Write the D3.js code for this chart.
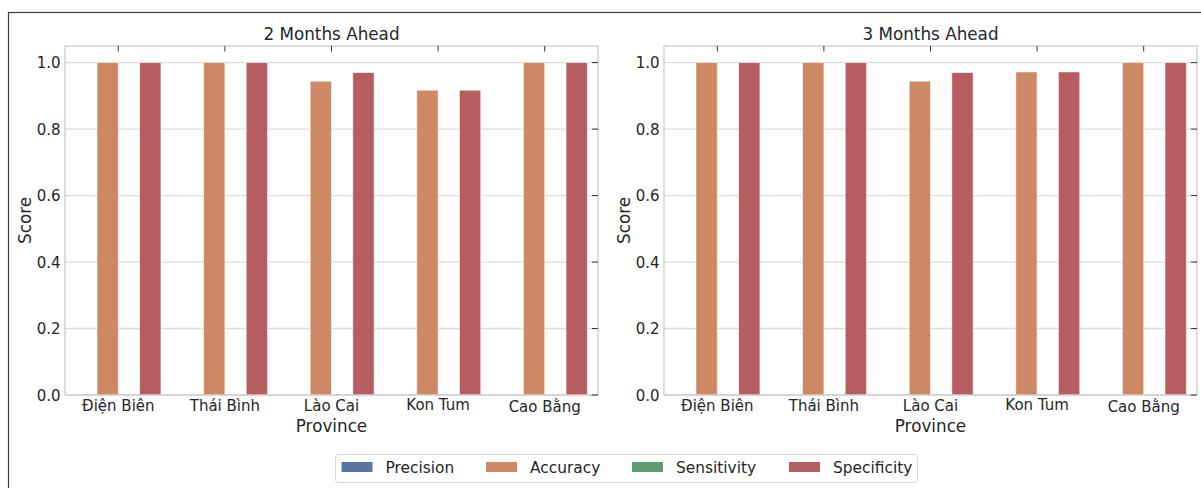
<!DOCTYPE html>
<html>
<head>
<meta charset="utf-8">
<script src="https://cdn.jsdelivr.net/npm/d3@7"></script>
<style>
  html, body { margin: 0; padding: 0; background: #ffffff; }
  svg { display: block; }
  text { font-family: "DejaVu Sans", sans-serif; fill: #262626; }
</style>
</head>
<body>
<svg id="chart" width="1201" height="488"></svg>
<script>
// Provinces and metric names
const provinces = ["Điện Biên", "Thái Bình", "Lào Cai", "Kon Tum", "Cao Bằng"];
const metrics = ["Precision", "Accuracy", "Sensitivity", "Specificity"];
const yTicks = [0.0, 0.2, 0.4, 0.6, 0.8, 1.0];

// 2 months ahead scores per province
const precision2 = [0, 0, 0, 0, 0];
const accuracy2 = [1.0, 1.0, 0.944, 0.917, 1.0];
const sensitivity2 = [0, 0, 0, 0, 0];
const specificity2 = [1.0, 1.0, 0.970, 0.917, 1.0];

// 3 months ahead scores per province
const precision3 = [0, 0, 0, 0, 0];
const accuracy3 = [1.0, 1.0, 0.944, 0.972, 1.0];
const sensitivity3 = [0, 0, 0, 0, 0];
const specificity3 = [1.0, 1.0, 0.970, 0.972, 1.0];

const panels = [
  { title: "2 Months Ahead", series: [precision2, accuracy2, sensitivity2, specificity2], x0: 65, x1: 598 },
  { title: "3 Months Ahead", series: [precision3, accuracy3, sensitivity3, specificity3], x0: 664, x1: 1197 }
];

// seaborn "deep" palette, desaturated as barplot does
const colors = d3.scaleOrdinal().domain(metrics)
  .range(["#5875a4", "#cc8963", "#5f9e6e", "#b55d60"]);

const svg = d3.select("#chart");
const plotTop = 46, plotBottom = 395;
const y = d3.scaleLinear().domain([0, 1.05]).range([plotBottom, plotTop]);

// glyph-accurate ascent, so tick labels hang from their tallest mark
const ctx = document.createElement("canvas").getContext("2d");
ctx.font = '15px "DejaVu Sans"';
const ascent = s => ctx.measureText(s).actualBoundingBoxAscent;

// outer figure frame
svg.append("rect")
  .attr("x", 8.5).attr("y", 12.5)
  .attr("width", 1230).attr("height", 500)
  .attr("fill", "none").attr("stroke", "#3c3c3c").attr("stroke-width", 1.2);

panels.forEach(p => {
  const g = svg.append("g");
  const x = d3.scaleBand().domain(provinces).range([p.x0, p.x1]).padding(0);
  const bw = x.bandwidth();
  const hue = d3.scaleBand().domain(metrics).range([-0.4 * bw, 0.4 * bw]).padding(0);

  // horizontal grid
  g.append("g").selectAll("line").data(yTicks).join("line")
    .attr("x1", p.x0).attr("x2", p.x1)
    .attr("y1", d => y(d)).attr("y2", d => y(d))
    .attr("stroke", "#dcdcdc").attr("stroke-width", 1.3);

  // bars
  const rows = [];
  p.series.forEach((vals, si) => vals.forEach((v, ci) => rows.push({ m: metrics[si], c: provinces[ci], v })));
  g.append("g").selectAll("rect").data(rows).join("rect")
    .attr("x", d => x(d.c) + bw / 2 + hue(d.m))
    .attr("width", hue.bandwidth())
    .attr("y", d => y(d.v))
    .attr("height", d => y(0) - y(d.v))
    .attr("fill", d => colors(d.m))
    .attr("stroke", "#ffffff").attr("stroke-opacity", 0.6).attr("stroke-width", 0.9);

  // spines
  g.append("rect")
    .attr("x", p.x0).attr("y", plotTop)
    .attr("width", p.x1 - p.x0).attr("height", plotBottom - plotTop)
    .attr("fill", "none").attr("stroke", "#cccccc").attr("stroke-width", 1.3);

  // inward ticks on the top and right edges
  g.append("g").selectAll("line").data(provinces).join("line")
    .attr("x1", d => x(d) + bw / 2).attr("x2", d => x(d) + bw / 2)
    .attr("y1", plotTop).attr("y2", plotTop + 5.5)
    .attr("stroke", "#333333").attr("stroke-width", 1);
  g.append("g").selectAll("line").data(yTicks).join("line")
    .attr("x1", p.x1 - 6).attr("x2", p.x1)
    .attr("y1", d => y(d)).attr("y2", d => y(d))
    .attr("stroke", "#333333").attr("stroke-width", 1);

  // y tick labels
  g.append("g").selectAll("text").data(yTicks).join("text")
    .attr("x", p.x0 - 4.5).attr("y", d => y(d) + 5.5)
    .attr("text-anchor", "end").attr("font-size", 15)
    .text(d => d3.format(".1f")(d));

  // x tick labels
  g.append("g").selectAll("text").data(provinces).join("text")
    .attr("x", d => x(d) + bw / 2)
    .attr("y", d => 398 + ascent(d))
    .attr("text-anchor", "middle").attr("font-size", 15)
    .text(d => d);

  // title and axis labels
  g.append("text")
    .attr("x", (p.x0 + p.x1) / 2).attr("y", 40)
    .attr("text-anchor", "middle").attr("font-size", 16.8)
    .text(p.title);
  g.append("text")
    .attr("x", (p.x0 + p.x1) / 2).attr("y", 432)
    .attr("text-anchor", "middle").attr("font-size", 16.8)
    .text("Province");
  g.append("text")
    .attr("transform", `translate(${p.x0 - 34},${(plotTop + plotBottom) / 2}) rotate(-90)`)
    .attr("text-anchor", "middle").attr("font-size", 16.8)
    .text("Score");
});

// legend
const legendX = [341.5, 486, 632, 789];
const lg = svg.append("g");
lg.append("rect")
  .attr("x", 335.5).attr("y", 454.5)
  .attr("width", 582).attr("height", 28)
  .attr("rx", 3)
  .attr("fill", "#ffffff").attr("stroke", "#d6d6d6").attr("stroke-width", 1);
const items = lg.selectAll("g.item").data(metrics).join("g").attr("class", "item")
  .attr("transform", (d, i) => `translate(${legendX[i]},0)`);
items.append("rect")
  .attr("x", 0).attr("y", 462).attr("width", 31).attr("height", 10)
  .attr("fill", d => colors(d));
items.append("text")
  .attr("x", 44).attr("y", 472.5).attr("font-size", 15.4)
  .text(d => d);
</script>
</body>
</html>
